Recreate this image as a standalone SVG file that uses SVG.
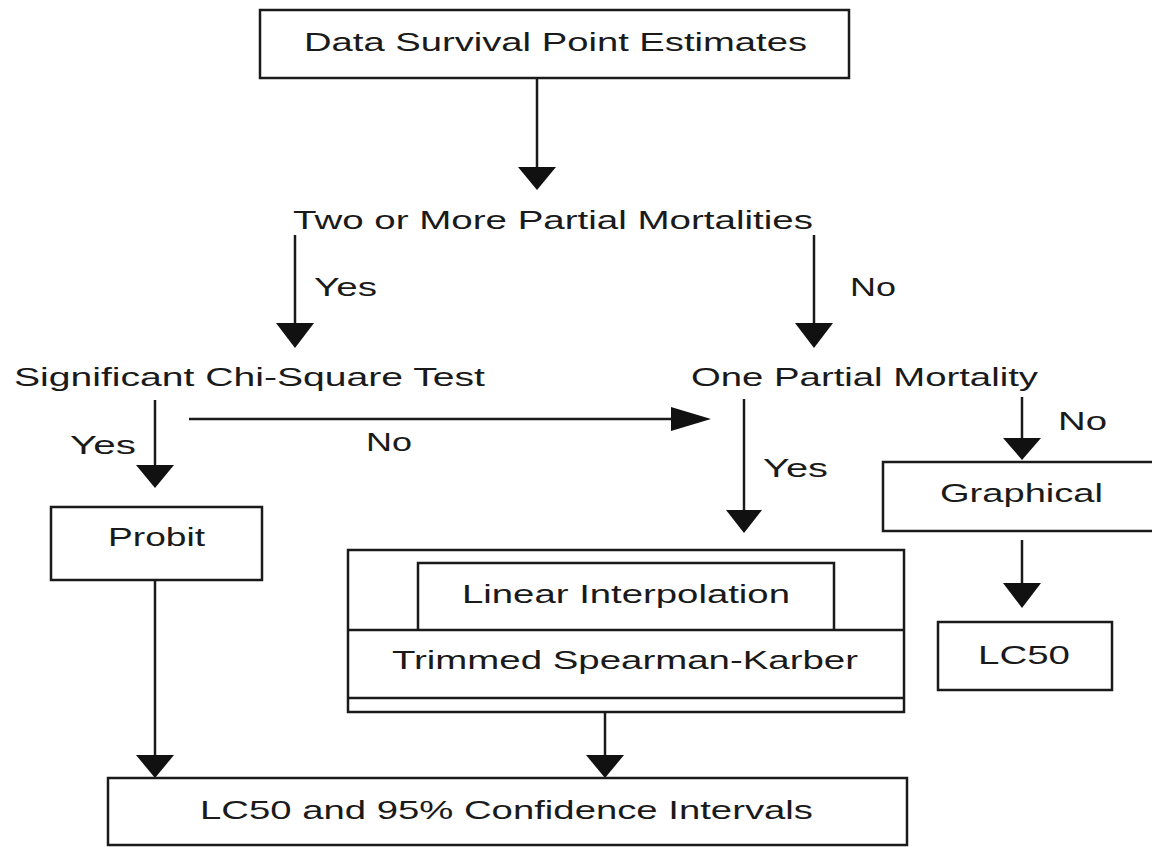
<svg xmlns="http://www.w3.org/2000/svg" width="1152" height="847" viewBox="0 0 1152 847">
<style>
  .box { fill: #fff; stroke: #1a1a1a; stroke-width: 2.5; }
  .ln { fill: none; stroke: #1a1a1a; stroke-width: 2.5; }
  .head { fill: #111; stroke: none; }
  text { font-family: "Liberation Sans", Arial, sans-serif; font-size: 25px; fill: #1a1a1a; }
</style>
<rect width="1152" height="847" fill="#fff"/>

<g id="connectors">
  <line class="ln" x1="537" y1="78" x2="537" y2="170"/>
  <polygon class="head" points="518,167 556,167 537,190"/>

  <line class="ln" x1="295" y1="235" x2="295" y2="326"/>
  <polygon class="head" points="276,323 314,323 295,348"/>
  <text x="314" y="296" textLength="63" lengthAdjust="spacingAndGlyphs">Yes</text>

  <line class="ln" x1="814" y1="235" x2="814" y2="326"/>
  <polygon class="head" points="795,323 833,323 814,348"/>
  <text x="850" y="296" textLength="46" lengthAdjust="spacingAndGlyphs">No</text>

  <line class="ln" x1="155" y1="400" x2="155" y2="468"/>
  <polygon class="head" points="136,465 174,465 155,488"/>
  <text x="70" y="454" textLength="66" lengthAdjust="spacingAndGlyphs">Yes</text>

  <line class="ln" x1="189" y1="419" x2="674" y2="419"/>
  <polygon class="head" points="671,407 671,431 711,419"/>
  <text x="366" y="451" textLength="46" lengthAdjust="spacingAndGlyphs">No</text>

  <line class="ln" x1="744" y1="399" x2="744" y2="513"/>
  <polygon class="head" points="726,510 762,510 744,533"/>
  <text x="763" y="477" textLength="65" lengthAdjust="spacingAndGlyphs">Yes</text>

  <line class="ln" x1="1022" y1="397" x2="1022" y2="441"/>
  <polygon class="head" points="1003,438 1041,438 1022,460"/>
  <text x="1058" y="430" textLength="49" lengthAdjust="spacingAndGlyphs">No</text>

  <line class="ln" x1="1022" y1="540" x2="1022" y2="586"/>
  <polygon class="head" points="1003,583 1041,583 1022,608"/>

  <line class="ln" x1="155" y1="580" x2="155" y2="758"/>
  <polygon class="head" points="136,755 174,755 155,778"/>

  <line class="ln" x1="605" y1="712" x2="605" y2="758"/>
  <polygon class="head" points="586,755 624,755 605,778"/>
</g>

<g id="n-data">
  <rect class="box" x="260" y="10" width="589" height="68"/>
  <text x="304" y="51" textLength="503" lengthAdjust="spacingAndGlyphs">Data Survival Point Estimates</text>
</g>

<g id="n-two">
  <text x="293" y="229" textLength="520" lengthAdjust="spacingAndGlyphs">Two or More Partial Mortalities</text>
</g>

<g id="n-chi">
  <text x="14" y="386" textLength="471" lengthAdjust="spacingAndGlyphs">Significant Chi-Square Test</text>
</g>

<g id="n-one">
  <text x="691" y="386" textLength="347" lengthAdjust="spacingAndGlyphs">One Partial Mortality</text>
</g>

<g id="n-probit">
  <rect class="box" x="51" y="507" width="211" height="73"/>
  <text x="108" y="546" textLength="97" lengthAdjust="spacingAndGlyphs">Probit</text>
</g>

<g id="n-graphical">
  <rect class="box" x="883" y="462" width="272" height="69"/>
  <text x="940" y="502" textLength="163" lengthAdjust="spacingAndGlyphs">Graphical</text>
</g>

<g id="n-methods">
  <rect class="box" x="348" y="550" width="556" height="162"/>
  <line class="ln" x1="348" y1="698" x2="904" y2="698"/>
  <line class="ln" x1="348" y1="630" x2="904" y2="630"/>
  <path class="ln" d="M418,630 V563 H834 V630"/>
  <text x="462" y="603" textLength="328" lengthAdjust="spacingAndGlyphs">Linear Interpolation</text>
  <text x="392" y="669" textLength="466" lengthAdjust="spacingAndGlyphs">Trimmed Spearman-Karber</text>
</g>

<g id="n-lc50">
  <rect class="box" x="938" y="622" width="174" height="68"/>
  <text x="978" y="664" textLength="92" lengthAdjust="spacingAndGlyphs">LC50</text>
</g>

<g id="n-result">
  <rect class="box" x="108" y="778" width="799" height="67"/>
  <text x="200" y="819" textLength="613" lengthAdjust="spacingAndGlyphs">LC50 and 95% Confidence Intervals</text>
</g>
</svg>
